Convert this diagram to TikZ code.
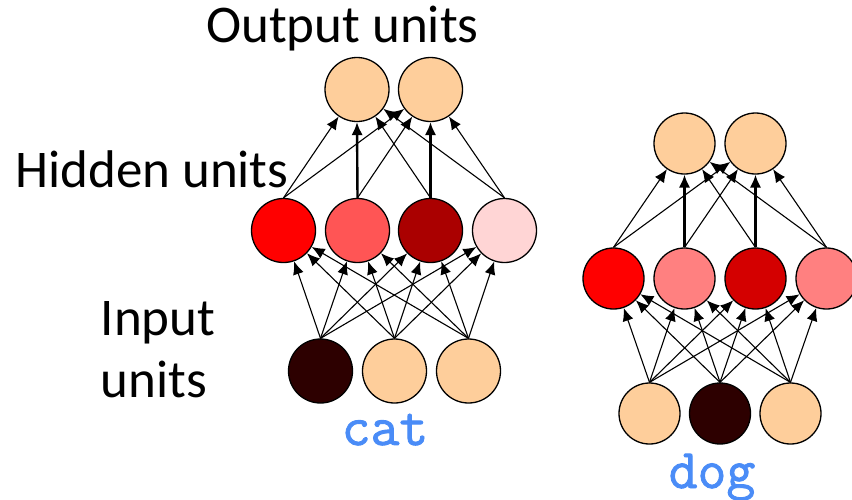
\documentclass[tikz,border=0pt]{standalone}
\usepackage{fontspec}
\setmainfont{Carlito}
\newfontfamily\wordfont{Latin Modern Mono}[FakeBold=1.6]
\usetikzlibrary{arrows.meta}
\definecolor{peach}{HTML}{FECE9B}
\definecolor{darkin}{HTML}{2D0000}
\definecolor{lhA}{HTML}{FF0000}
\definecolor{lhB}{HTML}{FF5555}
\definecolor{lhC}{HTML}{AA0000}
\definecolor{lhD}{HTML}{FFD5D5}
\definecolor{rhA}{HTML}{FF0000}
\definecolor{rhB}{HTML}{FF8080}
\definecolor{rhC}{HTML}{D40000}
\definecolor{rhD}{HTML}{FF8080}
\definecolor{wordblue}{HTML}{4A8CF7}
\tikzset{
  unitL/.style={circle,draw=black,line width=1.3pt,minimum size=64pt,inner sep=0pt},
  unitR/.style={circle,draw=black,line width=1.3pt,minimum size=61pt,inner sep=0pt},
  conn/.style={line width=1.1pt,-{Latex[length=13pt,width=11pt]}},
  thickconn/.style={line width=2.4pt,-{Latex[length=13pt,width=11.5pt]}},
  lbl/.style={inner sep=0pt,font=\fontsize{53}{62}\selectfont},
  word/.style={inner sep=0pt,text=wordblue,font=\wordfont\fontsize{56}{56}\selectfont}
}
\begin{document}
\begin{tikzpicture}[x=1pt,y=-1pt]
\clip (0,0) rectangle (852,499);
\useasboundingbox (0,0) rectangle (852,499);
% labels
\node[lbl,anchor=base west] (tout) at (206,42) {Output units};
\node[lbl,anchor=base west] (thid) at (15,187) {Hidden units};
\node[lbl,anchor=base west] (tin1) at (100.5,335) {Input};
\node[lbl,anchor=base west] (tin2) at (100.5,397) {units};
\node[word,anchor=base] (cat) at (385,445) {cat};
\node[word,anchor=base] (dog) at (712,488) {dog};
% left network
\node[unitL,fill=peach] (lo1) at (357,89.5) {};
\node[unitL,fill=peach] (lo2) at (430.5,89.5) {};
\node[unitL,fill=lhA] (lh1) at (283.5,230.5) {};
\node[unitL,fill=lhB] (lh2) at (357.5,230.5) {};
\node[unitL,fill=lhC] (lh3) at (430.5,230.5) {};
\node[unitL,fill=lhD] (lh4) at (504.5,230.5) {};
\node[unitL,fill=darkin] (li1) at (320.5,371) {};
\node[unitL,fill=peach] (li2) at (394.5,371) {};
\node[unitL,fill=peach] (li3) at (468.5,371) {};
% right network
\node[unitR,fill=peach] (ro1) at (684.5,143.5) {};
\node[unitR,fill=peach] (ro2) at (755.5,143.5) {};
\node[unitR,fill=rhA] (rh1) at (613.5,278.5) {};
\node[unitR,fill=rhB] (rh2) at (684.5,278.5) {};
\node[unitR,fill=rhC] (rh3) at (755.5,278.5) {};
\node[unitR,fill=rhD] (rh4) at (826.5,278.5) {};
\node[unitR,fill=peach] (ri1) at (649.5,413.5) {};
\node[unitR,fill=darkin] (ri2) at (720,413.5) {};
\node[unitR,fill=peach] (ri3) at (790.5,413.5) {};
% connectors
\foreach \n in {l,r}{
  \foreach \i in {1,2,3}{
    \foreach \h in {1,2,3,4}{
      \draw[conn] (\n i\i.north) -- (\n h\h);
    }
  }
  \draw[conn] (\n h1.north) -- (\n o1);
  \draw[conn] (\n h1.north) -- (\n o2);
  \draw[thickconn] (\n h2.north) -- (\n o1.south);
  \draw[conn] (\n h2.north) -- (\n o2);
  \draw[conn] (\n h3.north) -- (\n o1);
  \draw[thickconn] (\n h3.north) -- (\n o2.south);
  \draw[conn] (\n h4.north) -- (\n o1);
  \draw[conn] (\n h4.north) -- (\n o2);
}
\end{tikzpicture}
\end{document}
